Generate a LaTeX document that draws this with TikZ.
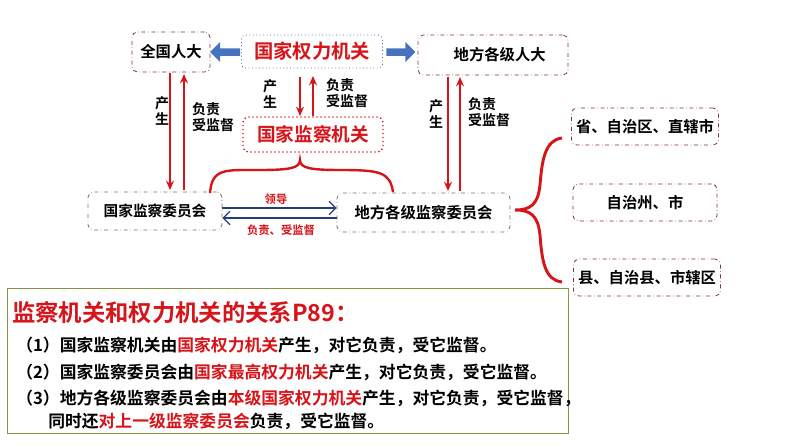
\documentclass[tikz,border=0pt]{standalone}
\usepackage{fontspec}
\setmainfont{Noto Sans CJK SC}
\newfontfamily\cjkb{Noto Sans CJK SC Bold}
\usetikzlibrary{arrows.meta,decorations.pathreplacing,shapes.arrows}
\definecolor{maroon}{RGB}{130,50,70}
\definecolor{olivegray}{RGB}{120,115,95}
\definecolor{myred}{RGB}{215,20,25}
\definecolor{navy}{RGB}{40,60,120}
\definecolor{arrblue}{RGB}{70,115,190}
\begin{document}
\begin{tikzpicture}[x=0.75pt,y=-0.75pt,
  bx/.style={draw=maroon,dash dot,rounded corners=4pt,fill=white,line width=0.6pt,font=\cjkb\fontsize{11.5}{13}\selectfont},
  ra/.style={draw=myred,line width=1.6pt,-{Stealth[length=7pt,width=6pt]}},
  lbl/.style={font=\cjkb\fontsize{10.5}{12}\selectfont,align=left},
  ba/.style={draw=navy,line width=0.9pt,-{Straight Barb[length=5pt]}},
  rl/.style={font=\cjkb\fontsize{8.5}{10}\selectfont,text=myred}]
\useasboundingbox (0,0) rectangle (794,447);
\fill[white] (0,0) rectangle (794,447);
% top boxes
\node[bx,minimum width=78*0.75pt,minimum height=40*0.75pt] (qg) at (171,52) {全国人大};
\node[draw=gray!70!blue,dotted,rounded corners=3pt,line width=0.6pt,minimum width=141*0.75pt,minimum height=33*0.75pt,font=\cjkb\fontsize{14.5}{16}\selectfont,text=myred] (ql) at (312,51.5) {国家权力机关};
\node[bx,minimum width=150*0.75pt,minimum height=40*0.75pt] (df) at (493,55) {\hspace*{10pt}地方各级人大};
% blue block arrows
\node[single arrow,fill=arrblue,minimum height=30*0.75pt,minimum width=20*0.75pt,single arrow head extend=2pt,shape border rotate=180,inner sep=1pt] (la) at (227,52) {};
\node[single arrow,fill=arrblue,minimum height=29*0.75pt,minimum width=20*0.75pt,single arrow head extend=2pt,inner sep=1pt] (rarw) at (399,52) {};
% middle
\node[draw=myred,dotted,rounded corners=4pt,line width=1pt,minimum width=140*0.75pt,minimum height=35*0.75pt,font=\cjkb\fontsize{14}{16}\selectfont,text=myred] (jc) at (313,134.5) {国家监察机关};
\node[draw=olivegray,dash dot,rounded corners=4pt,line width=0.6pt,minimum width=134*0.75pt,minimum height=38*0.75pt,font=\cjkb\fontsize{11}{13}\selectfont] (gw) at (155,211) {国家监察委员会};
\node[draw=olivegray,dash dot,rounded corners=4pt,line width=0.6pt,minimum width=173*0.75pt,minimum height=39*0.75pt,font=\cjkb\fontsize{11.5}{13}\selectfont] (dw) at (423.5,212.5) {地方各级监察委员会};
% right boxes
\node[bx,minimum width=144*0.75pt,minimum height=37*0.75pt] (r1) at (645,126.5) {省、自治区、直辖市};
\node[bx,minimum width=144*0.75pt,minimum height=37*0.75pt] (r2) at (645,202.5) {自治州、市};
\node[bx,minimum width=144*0.75pt,minimum height=37*0.75pt] (r3) at (647,277.5) {县、自治县、市辖区};
% red vertical arrows
\coordinate (a1) at (170,73); \coordinate (a2) at (170,190);
\draw[ra] (a1) -- (a2);
\coordinate (b1) at (184,190); \coordinate (b2) at (184,74);
\draw[ra] (b1) -- (b2);
\node[lbl] (l1) at (162,111) {产\\生};
\node[lbl] (l2) at (213,117) {负责\\受监督};
\coordinate (c1) at (300,77); \coordinate (c2) at (300,116);
\draw[ra] (c1) -- (c2);
\coordinate (d1) at (313,116); \coordinate (d2) at (313,76);
\draw[ra] (d1) -- (d2);
\node[lbl] (l3) at (270,94) {产\\生};
\node[lbl] (l4) at (347,93) {负责\\受监督};
\coordinate (e1) at (448,77); \coordinate (e2) at (448,191);
\draw[ra] (e1) -- (e2);
\coordinate (f1) at (460,191); \coordinate (f2) at (460,77);
\draw[ra] (f1) -- (f2);
\node[lbl] (l5) at (436,114) {产\\生};
\node[lbl] (l6) at (489,112) {负责\\受监督};
% braces
\draw[myred,line width=1.8pt] (210,193) .. controls (212,168) and (225,170) .. (260,170) .. controls (290,170) and (300,168) .. (300,160)
  .. controls (300,168) and (310,170) .. (340,170) .. controls (380,170) and (390,172) .. (393,192);
\draw[myred,line width=2.2pt] (562,138) .. controls (545,140) and (542,160) .. (540,185) .. controls (538,205) and (530,210) .. (515,210)
  .. controls (530,210) and (538,215) .. (540,235) .. controls (542,262) and (545,280) .. (562,282);
% horizontal arrows
\draw[ba] (gw.east |- 0,208) -- (dw.west |- 0,208);
\draw[ba] (dw.west |- 0,218) -- (gw.east |- 0,218);
\node[rl] (t1) at (276,199) {领导};
\node[rl] (t2) at (281,230) {负责、受监督};
% bottom box
\node[draw=olive!70!green!60!gray,line width=0.6pt,fill=white,minimum width=561*0.75pt,minimum height=145*0.75pt,anchor=north west,inner sep=0pt] (bb) at (7,288) {};
\node[anchor=west,inner sep=0pt,font=\cjkb\fontsize{17.5}{20}\selectfont,text=myred] (tt) at (12,313) {监察机关和权力机关的关系P89：};
\begin{scope}[every node/.style={anchor=west,inner sep=0pt,font=\cjkb\fontsize{12.6}{14}\selectfont}]
\node (s1) at (16,345) {（1）国家监察机关由\textcolor{myred}{国家权力机关}产生，对它负责，受它监督。};
\node (s2) at (16,372) {（2）国家监察委员会由\textcolor{myred}{国家最高权力机关}产生，对它负责，受它监督。};
\node (s3) at (16,398) {（3）地方各级监察委员会由\textcolor{myred}{本级国家权力机关}产生，对它负责，受它监督，};
\node (s4) at (48,421) {同时还\textcolor{myred}{对上一级监察委员会}负责，受它监督。};
\end{scope}
\end{tikzpicture}
\end{document}
